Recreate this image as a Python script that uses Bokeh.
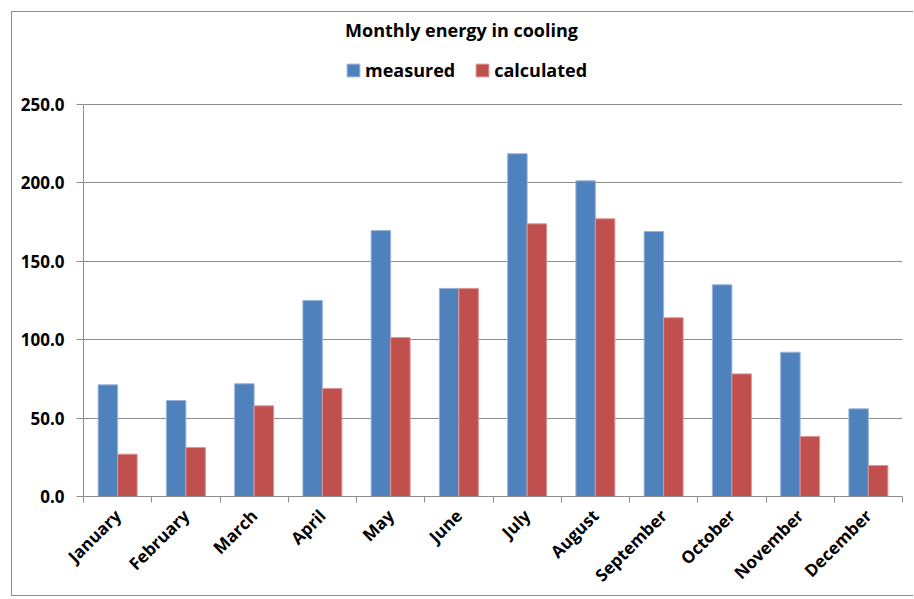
import numpy as np
from bokeh.plotting import figure
from bokeh.models import (ColumnDataSource, FixedTicker, NumeralTickFormatter, Range1d,
                          Label, Legend, LegendItem)
from bokeh.embed import file_html
from bokeh.resources import INLINE

# Monthly cooling energy, measured vs. calculated
months = ["January", "February", "March", "April", "May", "June",
          "July", "August", "September", "October", "November", "December"]
measured = [71.2, 61.2, 71.9, 125.0, 169.6, 132.7, 218.6, 201.3, 169.0, 135.0, 92.0, 55.9]
calculated = [27.0, 31.3, 57.8, 68.9, 101.4, 132.7, 173.9, 177.1, 114.0, 78.2, 38.3, 19.8]
y_ticks = [0, 50, 100, 150, 200, 250]

FONT = "Open Sans"
BLUE, BLUE_EDGE = "#4F81BD", "#9AB4DA"
RED, RED_EDGE = "#C0504D", "#DC9593"
GREY = "#8C8C8C"

n = len(months)
centers = np.arange(n) + 0.5
bar_w = 1 / 3.5  # two bars per category, gap of 150% of a bar

src = ColumnDataSource(dict(
    month=months,
    x_meas=centers - bar_w / 2,
    x_calc=centers + bar_w / 2,
    measured=measured,
    calculated=calculated,
))

# The frame runs to the top of the canvas so the title and legend can sit
# inside it; the value axis itself stops at 250.
FIG_H, BOTTOM = 585, 101
frame_h = FIG_H - BOTTOM
axis_px = 392  # pixels spanned by 0..250
y_top = y_ticks[-1] * frame_h / axis_px

p = figure(width=902, height=FIG_H,
           x_range=Range1d(0, n), y_range=Range1d(0, y_top),
           output_backend="svg", toolbar_location=None,
           min_border_left=71, min_border_right=12,
           min_border_top=0, min_border_bottom=BOTTOM)
p.styles = {"margin-left": "11px", "margin-top": "11px",
            "border": f"1px solid {GREY}", "border-right": "none"}
p.outline_line_color = None
p.background_fill_color = "white"
p.border_fill_color = "white"

r_meas = p.vbar(x="x_meas", top="measured", bottom=0, width=bar_w, source=src,
                fill_color=BLUE, line_color=BLUE_EDGE, line_width=1)
r_calc = p.vbar(x="x_calc", top="calculated", bottom=0, width=bar_w, source=src,
                fill_color=RED, line_color=RED_EDGE, line_width=1)

# x axis: labels at category centres, tick marks on category boundaries
xa = p.xaxis[0]
xa.ticker = FixedTicker(ticks=list(centers), minor_ticks=list(range(n + 1)))
xa.major_label_overrides = {float(c): m for c, m in zip(centers, months)}
xa.major_label_orientation = np.pi / 4
xa.major_tick_line_color = None
xa.major_tick_in = 0
xa.major_tick_out = 0
xa.minor_tick_in = 0
xa.minor_tick_out = 6
xa.minor_tick_line_color = GREY
xa.axis_line_color = GREY
xa.major_label_standoff = 10
xa.major_label_text_font = FONT
xa.major_label_text_font_style = "bold"
xa.major_label_text_font_size = "17px"
xa.major_label_text_color = "black"

# y axis
ya = p.yaxis[0]
ya.ticker = FixedTicker(ticks=y_ticks)
ya.formatter = NumeralTickFormatter(format="0.0")
ya.bounds = (y_ticks[0], y_ticks[-1])
ya.major_tick_in = 0
ya.major_tick_out = 7
ya.minor_tick_line_color = None
ya.major_tick_line_color = GREY
ya.axis_line_color = GREY
ya.major_label_standoff = 12
ya.major_label_text_font = FONT
ya.major_label_text_font_style = "bold"
ya.major_label_text_font_size = "17px"
ya.major_label_text_color = "black"

p.xgrid.grid_line_color = None
p.ygrid.grid_line_color = GREY
p.ygrid.grid_line_width = 1

# chart title
title = Label(x=378, y=467, x_units="screen", y_units="screen",
              text="Monthly energy in cooling", text_align="center",
              text_baseline="alphabetic", text_font=FONT,
              text_font_style="bold", text_font_size="18px", text_color="black")
p.add_layout(title)

legend = Legend(items=[LegendItem(label="measured", renderers=[r_meas]),
                       LegendItem(label="calculated", renderers=[r_calc])],
                orientation="horizontal", location=(262, 414),
                glyph_width=16, glyph_height=16, label_standoff=4, spacing=19,
                padding=0, margin=0, border_line_color=None,
                background_fill_alpha=0,
                label_text_font=FONT, label_text_font_style="bold",
                label_text_font_size="18px", label_text_color="black")
p.add_layout(legend, "center")

open("out.html", "w").write(file_html(p, INLINE))
